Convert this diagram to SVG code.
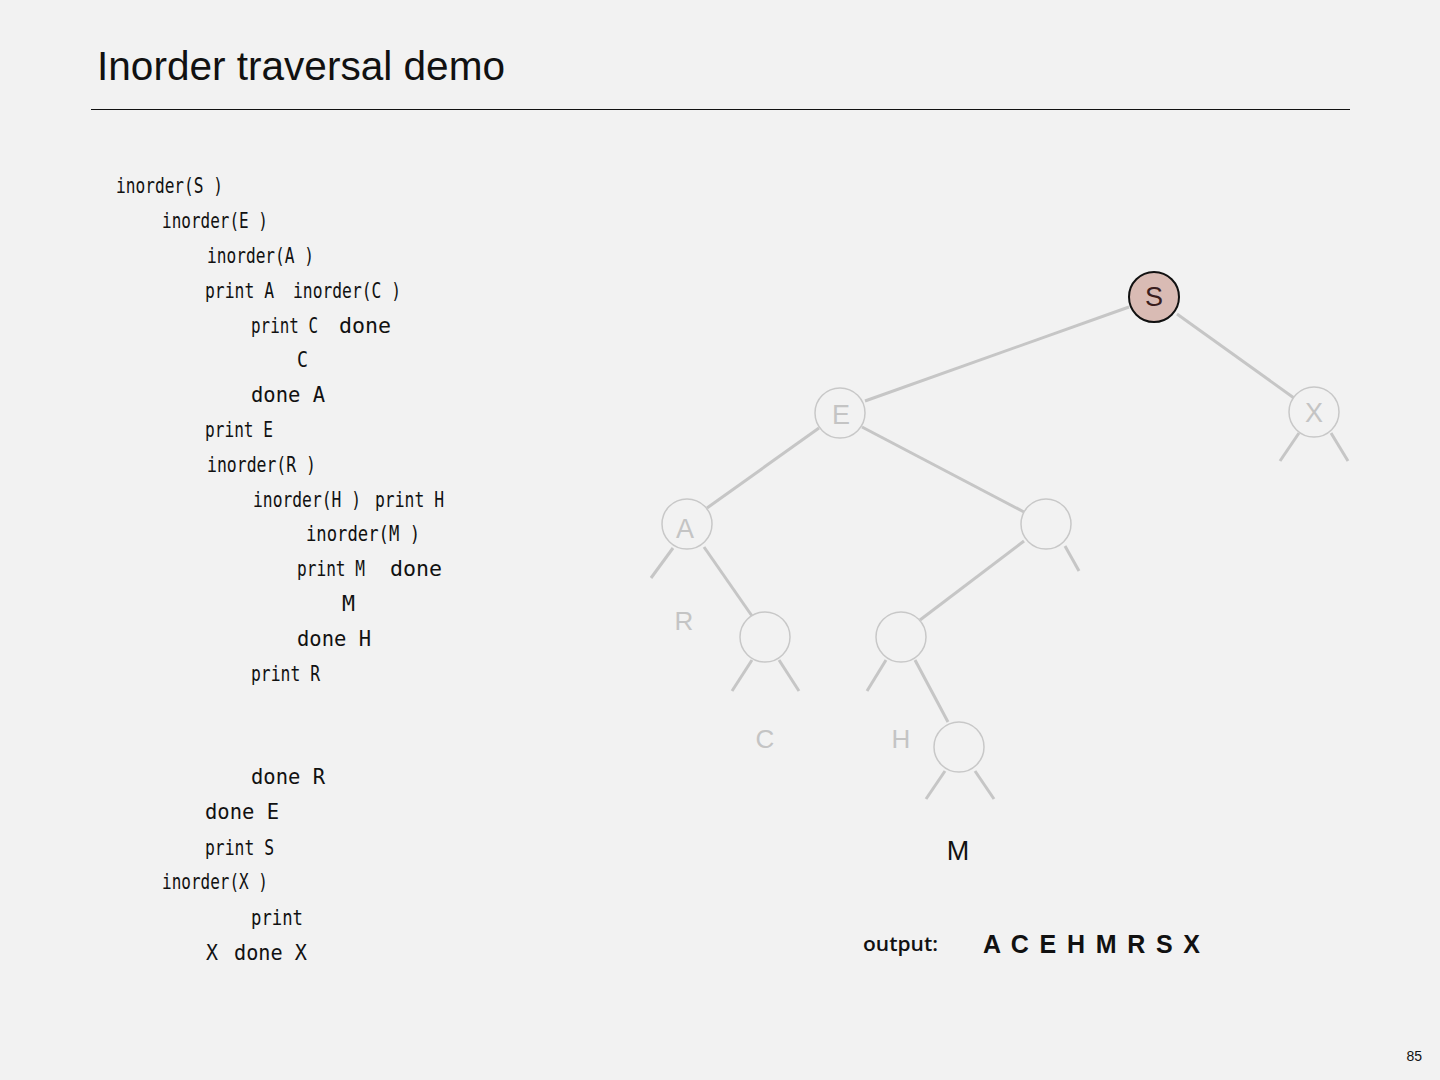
<svg xmlns="http://www.w3.org/2000/svg" width="1440" height="1080" viewBox="0 0 1440 1080">
<style>
.code{font-family:"DejaVu Sans Mono","Liberation Mono",monospace;font-size:21px;fill:#111}
.node circle{fill:#f2f2f2;stroke:#c8c8c8;stroke-width:1.5}
.node text{font-family:"Liberation Sans",Arial,sans-serif;font-size:27px;fill:#c4c4c4;text-anchor:middle}
.lbl{font-family:"Liberation Sans",Arial,sans-serif;font-size:26px;fill:#c4c4c4;text-anchor:middle}
#edges line{stroke:#c6c6c6;stroke-width:3;stroke-linecap:butt}
</style>
<rect width="1440" height="1080" fill="#f2f2f2"/>
<text x="97" y="80" font-family="Liberation Sans,Arial,sans-serif" font-size="40" fill="#111" textLength="408" lengthAdjust="spacingAndGlyphs">Inorder traversal demo</text>
<line x1="91" y1="109.5" x2="1350" y2="109.5" stroke="#111" stroke-width="1"/>

<g id="trace">
<text class="code" x="116" y="193" textLength="107" lengthAdjust="spacingAndGlyphs">inorder(S )</text>
<text class="code" x="162" y="228" textLength="106" lengthAdjust="spacingAndGlyphs">inorder(E )</text>
<text class="code" x="207" y="263" textLength="107" lengthAdjust="spacingAndGlyphs">inorder(A )</text>
<text class="code" x="205" y="298" textLength="69" lengthAdjust="spacingAndGlyphs">print A</text>
<text class="code" x="293" y="298" textLength="108" lengthAdjust="spacingAndGlyphs">inorder(C )</text>
<text class="code" x="251" y="333" textLength="67" lengthAdjust="spacingAndGlyphs">print C</text>
<text class="code" x="339" y="333" textLength="52" lengthAdjust="spacingAndGlyphs">done</text>
<text class="code" x="297" y="367" textLength="11" lengthAdjust="spacingAndGlyphs">C</text>
<text class="code" x="251" y="402" textLength="74" lengthAdjust="spacingAndGlyphs">done A</text>
<text class="code" x="205" y="437" textLength="68" lengthAdjust="spacingAndGlyphs">print E</text>
<text class="code" x="207" y="472" textLength="109" lengthAdjust="spacingAndGlyphs">inorder(R )</text>
<text class="code" x="253" y="507" textLength="108" lengthAdjust="spacingAndGlyphs">inorder(H )</text>
<text class="code" x="375" y="507" textLength="69" lengthAdjust="spacingAndGlyphs">print H</text>
<text class="code" x="306" y="541" textLength="114" lengthAdjust="spacingAndGlyphs">inorder(M )</text>
<text class="code" x="297" y="576" textLength="68" lengthAdjust="spacingAndGlyphs">print M</text>
<text class="code" x="390" y="576" textLength="52" lengthAdjust="spacingAndGlyphs">done</text>
<text class="code" x="342" y="611" textLength="13" lengthAdjust="spacingAndGlyphs">M</text>
<text class="code" x="297" y="646" textLength="74" lengthAdjust="spacingAndGlyphs">done H</text>
<text class="code" x="251" y="681" textLength="69" lengthAdjust="spacingAndGlyphs">print R</text>
<text class="code" x="251" y="784" textLength="74" lengthAdjust="spacingAndGlyphs">done R</text>
<text class="code" x="205" y="819" textLength="74" lengthAdjust="spacingAndGlyphs">done E</text>
<text class="code" x="205" y="855" textLength="69" lengthAdjust="spacingAndGlyphs">print S</text>
<text class="code" x="162" y="889" textLength="106" lengthAdjust="spacingAndGlyphs">inorder(X )</text>
<text class="code" x="251" y="925" textLength="52" lengthAdjust="spacingAndGlyphs">print</text>
<text class="code" x="206" y="960" textLength="12" lengthAdjust="spacingAndGlyphs">X</text>
<text class="code" x="234" y="960" textLength="73" lengthAdjust="spacingAndGlyphs">done X</text>
</g>

<g id="edges">
<line x1="1129" y1="307" x2="865" y2="401"/>
<line x1="1177" y1="314" x2="1294" y2="398"/>
<line x1="819" y1="428" x2="707" y2="508"/>
<line x1="862" y1="427" x2="1024" y2="512"/>
<line x1="673" y1="548" x2="651" y2="578"/>
<line x1="704" y1="547" x2="752" y2="616"/>
<line x1="1024" y1="541" x2="920" y2="620"/>
<line x1="1065" y1="546" x2="1079" y2="571"/>
<line x1="752" y1="660" x2="732" y2="691"/>
<line x1="779" y1="660" x2="799" y2="691"/>
<line x1="886" y1="660" x2="867" y2="691"/>
<line x1="915" y1="660" x2="948" y2="722"/>
<line x1="945" y1="771" x2="926" y2="799"/>
<line x1="975" y1="771" x2="994" y2="799"/>
<line x1="1299" y1="433" x2="1280" y2="461"/>
<line x1="1331" y1="433" x2="1348" y2="461"/>
</g>

<g id="node-S" class="node"><circle cx="1154" cy="297" r="25" style="fill:#d9bbb4;stroke:#111;stroke-width:2"/><text x="1154" y="306" style="fill:#3a1d1d">S</text></g>
<g id="node-E" class="node"><circle cx="840" cy="413" r="25"/><text x="841" y="424">E</text></g>
<g id="node-X" class="node"><circle cx="1314" cy="412" r="25"/><text x="1314" y="422">X</text></g>
<g id="node-A" class="node"><circle cx="687" cy="524" r="25"/><text x="685" y="538">A</text></g>
<g id="node-R" class="node"><circle cx="1046" cy="524" r="25"/></g>
<g id="node-C" class="node"><circle cx="765" cy="637" r="25"/></g>
<g id="node-H" class="node"><circle cx="901" cy="637" r="25"/></g>
<g id="node-M" class="node"><circle cx="959" cy="747" r="25"/></g>

<text class="lbl" x="684" y="630">R</text>
<text class="lbl" x="765" y="748">C</text>
<text class="lbl" x="901" y="748">H</text>
<text x="958" y="860" font-family="Liberation Sans,Arial,sans-serif" font-size="27" fill="#111" text-anchor="middle">M</text>

<text x="863" y="951" font-family="Open Sans,Liberation Sans,sans-serif" font-size="20" font-weight="600" fill="#111" textLength="75" lengthAdjust="spacingAndGlyphs">output:</text>
<text x="983" y="953" font-family="Liberation Sans,Arial,sans-serif" font-size="25" font-weight="600" fill="#111" textLength="217" lengthAdjust="spacing">A C E H M R S X</text>

<text x="1422" y="1061" font-family="Liberation Sans,Arial,sans-serif" font-size="14" fill="#111" text-anchor="end">85</text>
</svg>
